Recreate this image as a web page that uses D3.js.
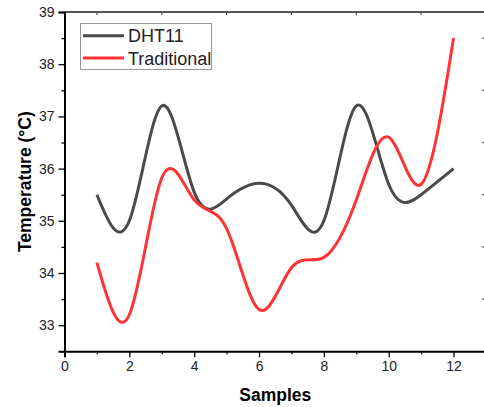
<!DOCTYPE html>
<html>
<head>
<meta charset="utf-8">
<script src="https://cdn.jsdelivr.net/npm/d3@7"></script>
<style>
  body { margin: 0; background: #fff; }
  svg { font-family: Arial, "Liberation Sans", sans-serif; }
</style>
</head>
<body>
<svg id="chart" width="484" height="407"></svg>
<script>
// Data
const samples = [1, 2, 3, 4, 5, 6, 7, 8, 9, 10, 11, 12];
const dht11 = [35.5, 35.0, 37.2, 35.55, 35.42, 35.72, 35.3, 35.0, 37.2, 35.7, 35.5, 36.0];
const traditional = [34.2, 33.2, 35.82, 35.4, 34.85, 33.3, 34.1, 34.3, 35.4, 36.6, 35.7, 38.5];
const xTicks = [0, 2, 4, 6, 8, 10, 12];
const yTicks = [33, 34, 35, 36, 37, 38, 39];
const seriesNames = ['DHT11', 'Traditional'];
const seriesColors = ['#4a4a4a', '#ff3333'];

const margin = {top: 12, right: -2, bottom: 56, left: 64.5};
const width = 484, height = 407;

const svg = d3.select('#chart');

const x = d3.scaleLinear()
    .domain([0, 13])
    .range([margin.left, margin.left + 13 * 32.42]);

const y = d3.scaleLinear()
    .domain([32.5, 39])
    .range([height - margin.bottom + 0.3, margin.top]);

const x0 = x(0), x1 = x(13), y0 = y(32.5), y1 = y(39);

// top and right frame
svg.append('line')
    .attr('x1', x0).attr('x2', x1).attr('y1', y1).attr('y2', y1)
    .attr('stroke', '#555').attr('stroke-width', 2);
svg.append('line')
    .attr('x1', x1).attr('x2', x1).attr('y1', y1).attr('y2', y0)
    .attr('stroke', '#555').attr('stroke-width', 2);

// top ticks at odd samples, pointing inward
svg.append('g').selectAll('line')
    .data(d3.range(1, 13, 2))
    .enter().append('line')
    .attr('x1', d => x(d)).attr('x2', d => x(d))
    .attr('y1', y1).attr('y2', y1 + 3)
    .attr('stroke', '#555').attr('stroke-width', 1.2);

// right ticks at half degrees
svg.append('g').selectAll('line')
    .data(d3.range(33.5, 39, 1))
    .enter().append('line')
    .attr('x1', x1).attr('x2', x1 - 4)
    .attr('y1', d => y(d)).attr('y2', d => y(d))
    .attr('stroke', '#555').attr('stroke-width', 1.2);

// bottom axis
const xAxis = svg.append('g')
    .attr('transform', `translate(0,${y0})`)
    .call(d3.axisBottom(x).tickValues(xTicks).tickSize(6).tickPadding(4).tickFormat(d3.format('d')));
xAxis.select('.domain').attr('stroke', '#000').attr('stroke-width', 2);
xAxis.selectAll('.tick line').attr('stroke-width', 1.3);
xAxis.selectAll('text').style('font-size', '14px').attr('fill', '#222');

svg.append('g')
    .attr('transform', `translate(0,${y0})`)
    .call(d3.axisBottom(x).tickValues(d3.range(1, 13, 2)).tickSize(3).tickFormat(''))
    .call(g => g.select('.domain').remove())
    .selectAll('.tick line').attr('stroke-width', 1.3);

// left axis
const yAxis = svg.append('g')
    .attr('transform', `translate(${x0},0)`)
    .call(d3.axisLeft(y).tickValues(yTicks).tickSize(6).tickPadding(4).tickFormat(d3.format('d')));
yAxis.select('.domain').attr('stroke', '#000').attr('stroke-width', 2);
yAxis.selectAll('.tick line').attr('stroke-width', 1.3);
yAxis.selectAll('text').style('font-size', '14px').attr('fill', '#222');

svg.append('g')
    .attr('transform', `translate(${x0},0)`)
    .call(d3.axisLeft(y).tickValues(d3.range(32.5, 39, 1)).tickSize(3).tickFormat(''))
    .call(g => g.select('.domain').remove())
    .selectAll('.tick line').attr('stroke-width', 1.3);

// axis titles
svg.append('text')
    .attr('x', (x0 + x1) / 2)
    .attr('y', 401)
    .attr('text-anchor', 'middle')
    .style('font-size', '17.5px')
    .style('font-weight', 'bold')
    .text('Samples');

svg.append('text')
    .attr('transform', `translate(31,${(y0 + y1) / 2}) rotate(-90)`)
    .attr('text-anchor', 'middle')
    .style('font-size', '17.5px')
    .style('font-weight', 'bold')
    .text('Temperature (°C)');

// curves
const line = d3.line()
    .x(d => x(d[0]))
    .y(d => y(d[1]))
    .curve(d3.curveNatural);

[dht11, traditional].forEach((vals, i) => {
    svg.append('path')
        .datum(samples.map((s, j) => [s, vals[j]]))
        .attr('d', line)
        .attr('fill', 'none')
        .attr('stroke', seriesColors[i])
        .attr('stroke-width', 3);
});

// legend
const legend = svg.append('g').attr('class', 'legend');
legend.append('rect')
    .attr('x', 80.5).attr('y', 23.5)
    .attr('width', 131).attr('height', 46)
    .attr('fill', '#fff')
    .attr('stroke', '#999').attr('stroke-width', 1);

const items = legend.selectAll('.legend-item')
    .data(seriesNames)
    .enter().append('g')
    .attr('class', 'legend-item')
    .attr('transform', (d, i) => `translate(0,${35.7 + i * 22.3})`);

items.append('line')
    .attr('x1', 83).attr('x2', 124)
    .attr('stroke', (d, i) => seriesColors[i])
    .attr('stroke-width', 3);

items.append('text')
    .attr('x', 128)
    .attr('y', 6.5)
    .style('font-size', '18px')
    .attr('fill', '#222')
    .text(d => d);
</script>
</body>
</html>
